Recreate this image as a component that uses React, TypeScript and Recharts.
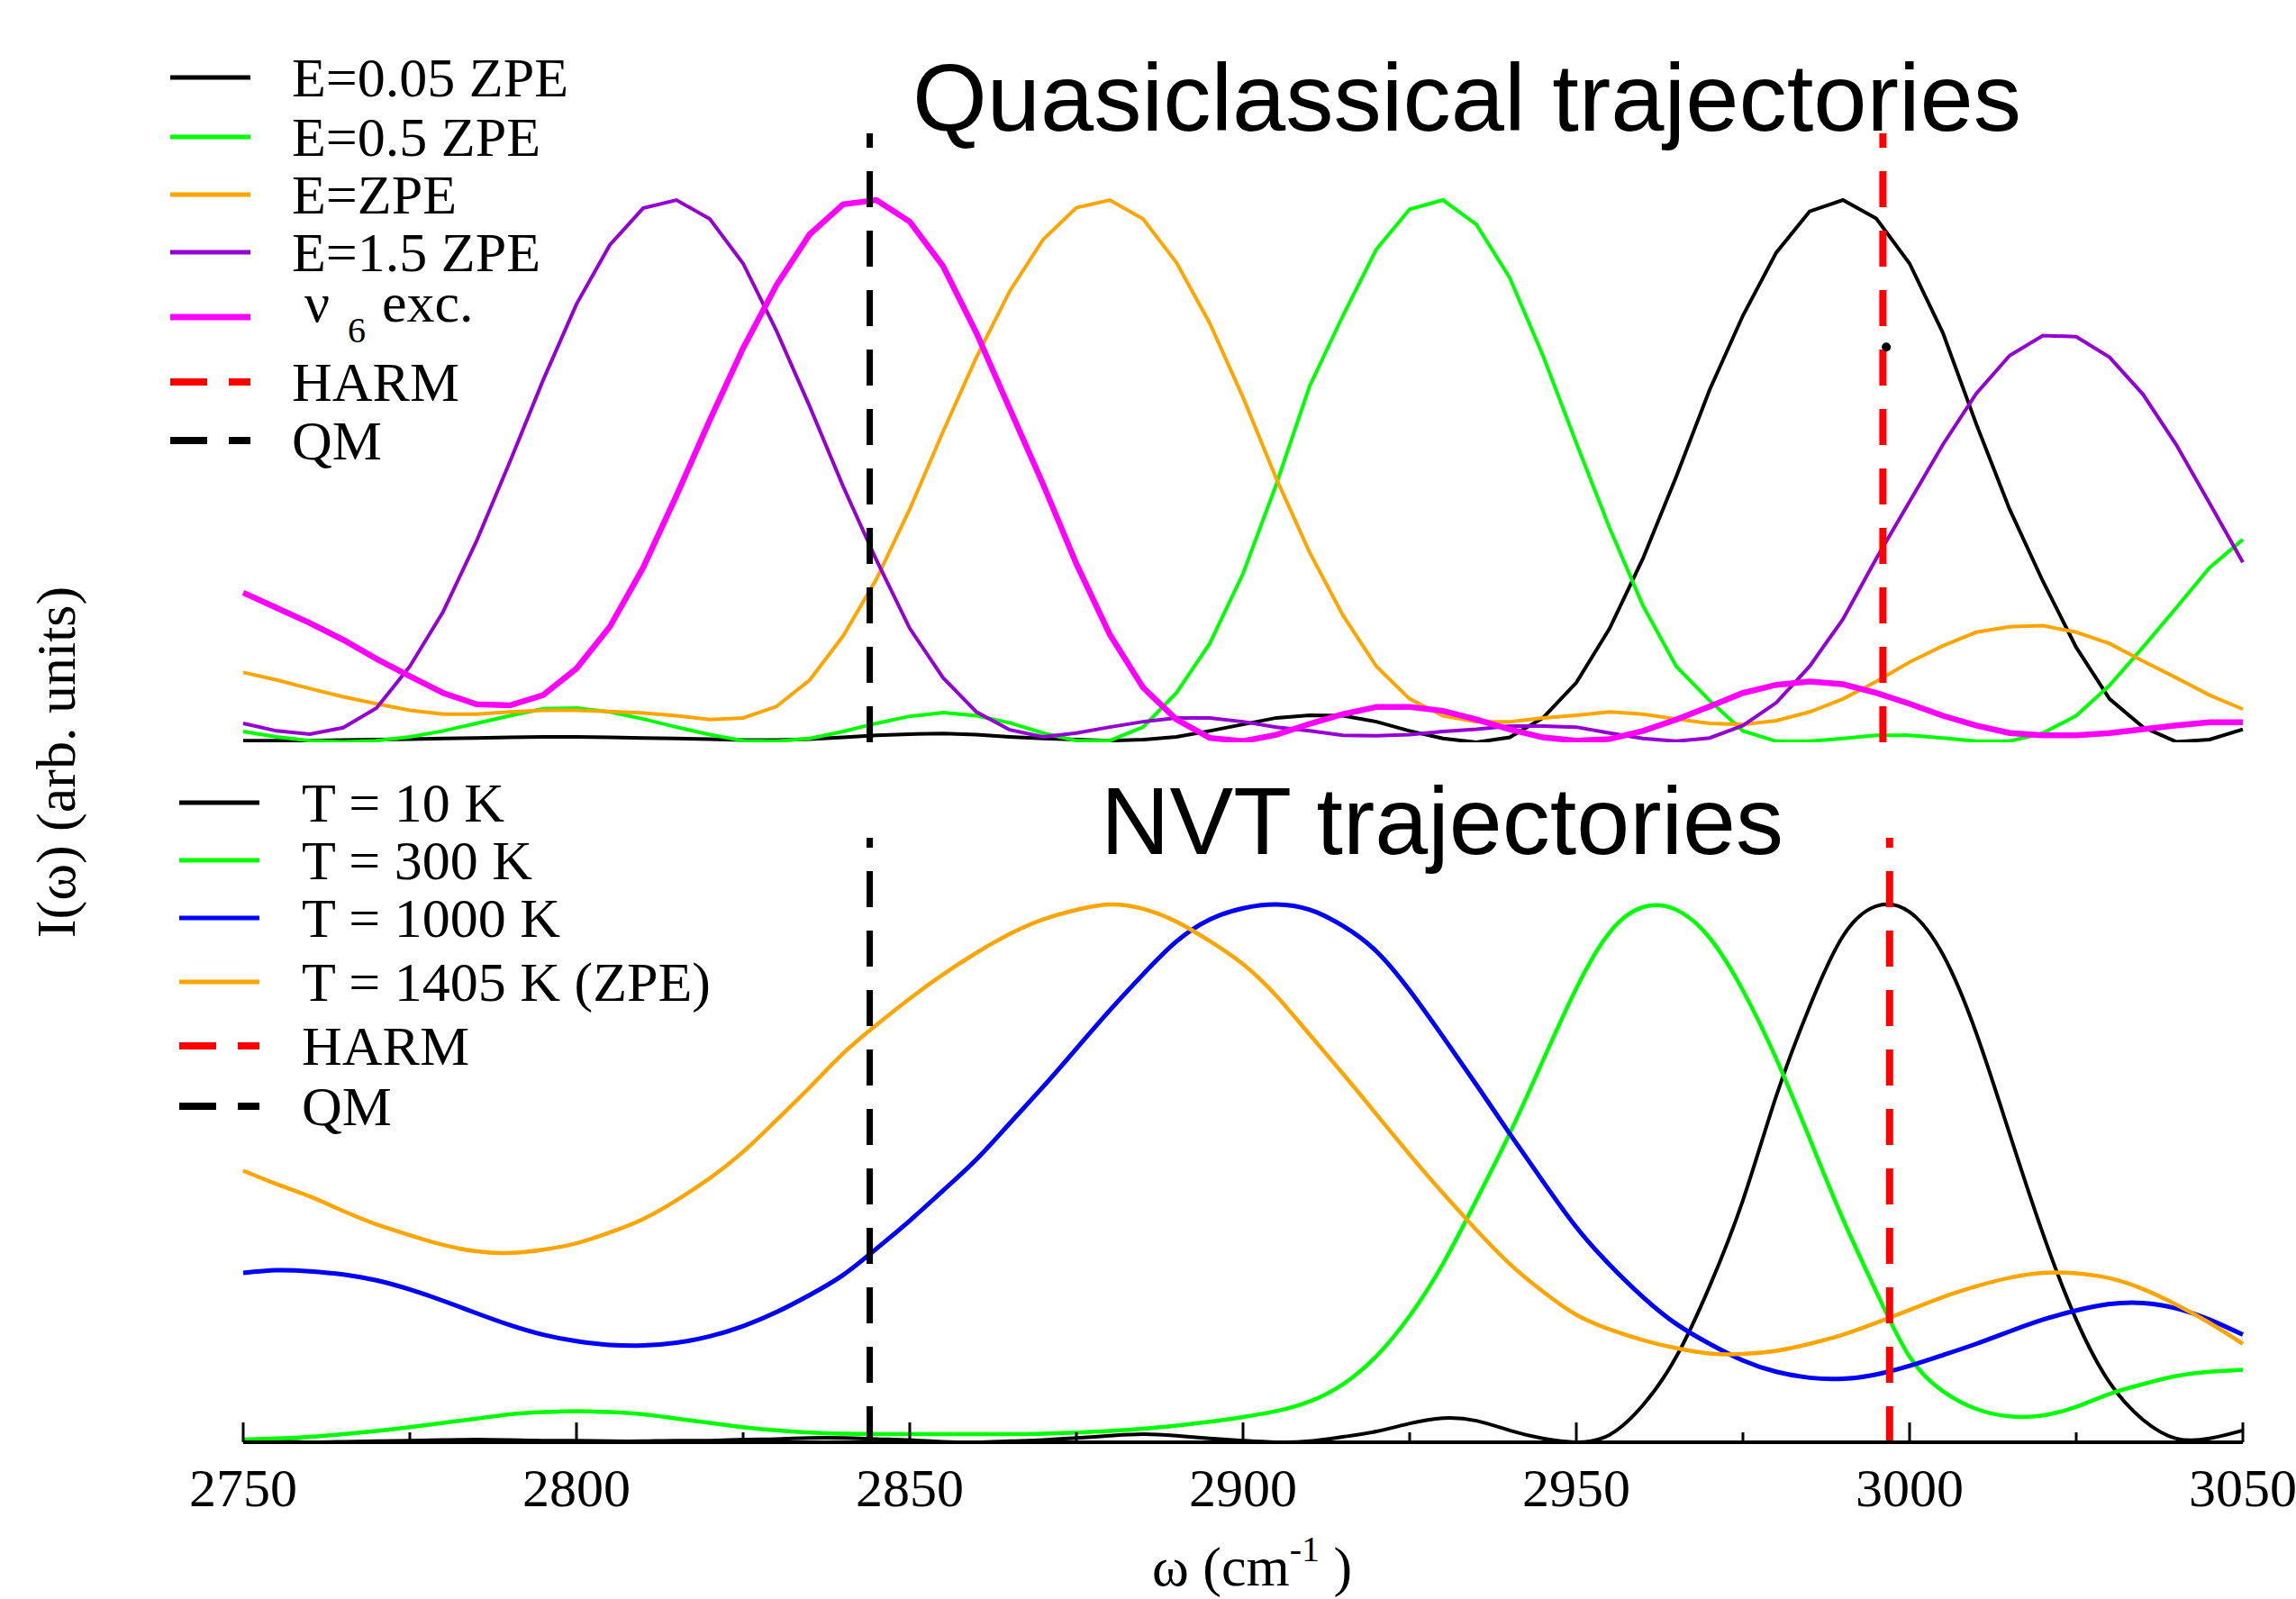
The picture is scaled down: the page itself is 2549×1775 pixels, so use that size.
import React from 'react';
import { LineChart, Line, XAxis, YAxis, ReferenceLine, ReferenceDot } from 'recharts';

const W = 2549;
const H = 1775;
const SERIF = '"Liberation Serif", "Times New Roman", serif';
const SANS = '"Liberation Sans", Arial, sans-serif';

// frequency grid (cm^-1), shared by both panels
const freq = [
  2750, 2755, 2760, 2765, 2770, 2775, 2780, 2785, 2790, 2795,
  2800, 2805, 2810, 2815, 2820, 2825, 2830, 2835, 2840, 2845,
  2850, 2855, 2860, 2865, 2870, 2875, 2880, 2885, 2890, 2895,
  2900, 2905, 2910, 2915, 2920, 2925, 2930, 2935, 2940, 2945,
  2950, 2955, 2960, 2965, 2970, 2975, 2980, 2985, 2990, 2995,
  3000, 3005, 3010, 3015, 3020, 3025, 3030, 3035, 3040, 3045, 3050,
];

const xTicks = [2750, 2775, 2800, 2825, 2850, 2875, 2900, 2925, 2950, 2975, 3000, 3025, 3050];

// reference frequencies
const qmFreq = 2844;
const harmFreqTop = 2996;
const harmFreqBottom = 2997;

// --- Quasiclassical trajectories (top panel) ---
const qc005 = [
  0.003, 0.003, 0.003, 0.004, 0.005, 0.006, 0.007, 0.008, 0.009, 0.01,
  0.01, 0.009, 0.008, 0.007, 0.006, 0.004, 0.004, 0.006, 0.009, 0.013,
  0.015, 0.016, 0.014, 0.01, 0.007, 0.005, 0.003, 0.005, 0.01, 0.021,
  0.033, 0.045, 0.05, 0.049, 0.038, 0.021, 0.007, 0.0, 0.009, 0.045,
  0.11, 0.21, 0.339, 0.49, 0.65, 0.787, 0.903, 0.979, 1.0, 0.966,
  0.883, 0.755, 0.587, 0.43, 0.297, 0.175, 0.08, 0.028, 0.001, 0.005, 0.024,
];
const qc05 = [
  0.02, 0.01, 0.003, 0.001, 0.003, 0.01, 0.021, 0.035, 0.049, 0.062,
  0.063, 0.056, 0.043, 0.028, 0.014, 0.003, 0.002, 0.007, 0.02, 0.035,
  0.048, 0.055, 0.049, 0.036, 0.017, 0.003, 0.003, 0.028, 0.091, 0.182,
  0.311, 0.476, 0.657, 0.787, 0.909, 0.983, 1.0, 0.955, 0.857, 0.713,
  0.552, 0.395, 0.252, 0.14, 0.077, 0.021, 0.002, 0.002, 0.007, 0.013,
  0.013, 0.008, 0.002, 0.002, 0.017, 0.049, 0.105, 0.175, 0.248, 0.322, 0.374,
];
const qcZpe = [
  0.129, 0.115, 0.099, 0.084, 0.071, 0.059, 0.052, 0.052, 0.056, 0.059,
  0.059, 0.057, 0.054, 0.049, 0.042, 0.045, 0.066, 0.115, 0.196, 0.301,
  0.43, 0.573, 0.71, 0.832, 0.927, 0.986, 1.0, 0.965, 0.885, 0.773,
  0.636, 0.486, 0.35, 0.234, 0.14, 0.08, 0.049, 0.038, 0.038, 0.045,
  0.05, 0.056, 0.052, 0.043, 0.035, 0.033, 0.04, 0.056, 0.08, 0.112,
  0.148, 0.178, 0.203, 0.213, 0.215, 0.203, 0.182, 0.15, 0.119, 0.087, 0.061,
];
const qc15 = [
  0.035, 0.021, 0.015, 0.027, 0.063, 0.14, 0.241, 0.371, 0.517, 0.668,
  0.808, 0.917, 0.985, 1.0, 0.965, 0.883, 0.759, 0.619, 0.472, 0.336,
  0.21, 0.119, 0.056, 0.023, 0.01, 0.017, 0.028, 0.038, 0.045, 0.045,
  0.038, 0.028, 0.021, 0.013, 0.012, 0.014, 0.02, 0.024, 0.03, 0.03,
  0.028, 0.017, 0.007, 0.002, 0.008, 0.031, 0.073, 0.14, 0.227, 0.339,
  0.444, 0.549, 0.643, 0.713, 0.75, 0.748, 0.71, 0.642, 0.549, 0.441, 0.332,
];
const qcNu6 = [
  0.276, 0.248, 0.22, 0.189, 0.154, 0.122, 0.091, 0.07, 0.068, 0.087,
  0.136, 0.213, 0.322, 0.455, 0.594, 0.727, 0.843, 0.937, 0.992, 1.0,
  0.96, 0.878, 0.755, 0.615, 0.476, 0.329, 0.199, 0.101, 0.042, 0.008,
  0.002, 0.014, 0.034, 0.052, 0.065, 0.065, 0.058, 0.042, 0.024, 0.009,
  0.003, 0.006, 0.021, 0.042, 0.066, 0.091, 0.106, 0.112, 0.107, 0.091,
  0.071, 0.049, 0.031, 0.017, 0.013, 0.013, 0.017, 0.024, 0.031, 0.037, 0.037,
];

// --- NVT trajectories (bottom panel) ---
const nvt10 = [
  0.003, 0.002, 0.0, 0.001, 0.002, 0.003, 0.004, 0.005, 0.004, 0.003,
  0.003, 0.002, 0.002, 0.003, 0.003, 0.005, 0.006, 0.008, 0.008, 0.006,
  0.004, 0.001, 0.0, 0.002, 0.004, 0.008, 0.012, 0.015, 0.012, 0.007,
  0.003, 0.0, 0.002, 0.01, 0.02, 0.035, 0.045, 0.04, 0.022, 0.007,
  0.0, 0.014, 0.069, 0.159, 0.29, 0.45, 0.644, 0.81, 0.941, 0.997,
  0.986, 0.907, 0.761, 0.574, 0.388, 0.228, 0.111, 0.042, 0.007, 0.007, 0.022,
];
const nvt300 = [
  0.005, 0.007, 0.01, 0.015, 0.021, 0.028, 0.036, 0.044, 0.052, 0.056,
  0.058, 0.056, 0.052, 0.044, 0.036, 0.028, 0.022, 0.018, 0.016, 0.015,
  0.015, 0.015, 0.015, 0.015, 0.016, 0.018, 0.021, 0.025, 0.031, 0.038,
  0.047, 0.058, 0.076, 0.108, 0.16, 0.235, 0.332, 0.45, 0.574, 0.71,
  0.844, 0.948, 0.995, 0.99, 0.938, 0.84, 0.713, 0.565, 0.415, 0.28,
  0.159, 0.095, 0.062, 0.048, 0.05, 0.066, 0.09, 0.108, 0.123, 0.131, 0.135,
];
const nvt1000 = [
  0.315, 0.32, 0.318, 0.312, 0.301, 0.284, 0.263, 0.24, 0.218, 0.2,
  0.188, 0.181, 0.18, 0.185, 0.197, 0.216, 0.242, 0.274, 0.311, 0.36,
  0.412, 0.468, 0.526, 0.593, 0.661, 0.732, 0.803, 0.87, 0.931, 0.972,
  0.993, 1.0, 0.99, 0.96, 0.913, 0.84, 0.754, 0.665, 0.574, 0.485,
  0.4, 0.33, 0.27, 0.22, 0.183, 0.152, 0.131, 0.12, 0.118, 0.126,
  0.142, 0.162, 0.183, 0.206, 0.228, 0.245, 0.257, 0.259, 0.249, 0.228, 0.2,
];
const nvt1405 = [
  0.505, 0.48, 0.457, 0.43, 0.405, 0.385, 0.367, 0.355, 0.352, 0.358,
  0.37, 0.39, 0.415, 0.45, 0.491, 0.54, 0.599, 0.66, 0.723, 0.776,
  0.825, 0.87, 0.91, 0.945, 0.972, 0.99, 1.0, 0.992, 0.968, 0.932,
  0.889, 0.83, 0.758, 0.685, 0.61, 0.535, 0.463, 0.395, 0.332, 0.28,
  0.237, 0.21, 0.19, 0.175, 0.165, 0.164, 0.17, 0.183, 0.2, 0.222,
  0.246, 0.27, 0.29, 0.306, 0.315, 0.314, 0.305, 0.285, 0.256, 0.222, 0.183,
];

const topData = freq.map((w, i) => ({
  w, e005: qc005[i], e05: qc05[i], zpe: qcZpe[i], e15: qc15[i], nu6: qcNu6[i],
}));
const bottomData = freq.map((w, i) => ({
  w, t10: nvt10[i], t300: nvt300[i], t1000: nvt1000[i], t1405: nvt1405[i],
}));

const topLegend = [
  { label: 'E=0.05 ZPE', color: '#000000', y: 86 },
  { label: 'E=0.5 ZPE', color: '#00ff00', y: 152 },
  { label: 'E=ZPE', color: '#ffa500', y: 216 },
  { label: 'E=1.5 ZPE', color: '#9400d3', y: 280 },
  { label: 'nu6', color: '#ff00ff', y: 352, wide: true },
  { label: 'HARM', color: '#ff0000', y: 424, dashed: true },
  { label: 'QM', color: '#000000', y: 489, dashed: true },
];
const bottomLegend = [
  { label: 'T = 10 K', color: '#000000', y: 891 },
  { label: 'T = 300 K', color: '#00ff00', y: 955 },
  { label: 'T = 1000 K', color: '#0000ff', y: 1019 },
  { label: 'T = 1405 K (ZPE)', color: '#ffa500', y: 1090 },
  { label: 'HARM', color: '#ff0000', y: 1161, dashed: true },
  { label: 'QM', color: '#000000', y: 1228, dashed: true },
];

const AxisTick = (props: any) => {
  const { x, y, payload } = props;
  const major = payload.value % 50 === 0;
  return (
    <g>
      <line x1={x} x2={x} y1={y} y2={y - (major ? 22 : 11)} stroke="#000" strokeWidth={3} />
      {major && (
        <text x={x} y={y + 71} textAnchor="middle" fontSize={60} fontFamily={SERIF} fill="#000">
          {payload.value}
        </text>
      )}
    </g>
  );
};

const LegendBlock = ({ items, x1, x2, tx }: { items: any[]; x1: number; x2: number; tx: number }) => (
  <g>
    {items.map((it) => (
      <g key={it.label}>
        <line
          x1={x1} x2={x2} y1={it.y} y2={it.y}
          stroke={it.color}
          strokeWidth={it.dashed ? 8 : it.wide ? 7 : 5}
          strokeDasharray={it.dashed ? '41 24' : undefined}
        />
        {it.label === 'nu6' ? (
          <g>
            <text x={tx + 14} y={it.y + 5} fontSize={62} fontFamily={SERIF} fill="#000">ν</text>
            <text x={tx + 62} y={it.y + 28} fontSize={40} fontFamily={SERIF} fill="#000">6</text>
            <text x={tx + 100} y={it.y + 5} fontSize={62} fontFamily={SERIF} fill="#000">exc.</text>
          </g>
        ) : (
          <text x={tx} y={it.y + 21} fontSize={62} fontFamily={SERIF} fill="#000">{it.label}</text>
        )}
      </g>
    ))}
  </g>
);

const App: React.FC = () => {
  return (
    <div style={{ position: 'absolute', left: 0, top: 0, width: W, height: H, background: '#fff' }}>
      <div style={{ position: 'absolute', left: 0, top: 0 }}>
        <LineChart width={W} height={900} data={topData} margin={{ top: 148, right: 59, bottom: 76, left: 270 }}>
          <XAxis dataKey="w" type="number" domain={[2750, 3050]} hide />
          <YAxis type="number" domain={[0, 1.123]} allowDataOverflow hide />
          <Line type="linear" dataKey="e005" stroke="#000000" strokeWidth={4} dot={false} isAnimationActive={false} />
          <Line type="linear" dataKey="e05" stroke="#00ff00" strokeWidth={4} dot={false} isAnimationActive={false} />
          <Line type="linear" dataKey="zpe" stroke="#ffa500" strokeWidth={4} dot={false} isAnimationActive={false} />
          <Line type="linear" dataKey="e15" stroke="#9400d3" strokeWidth={4} dot={false} isAnimationActive={false} />
          <Line type="linear" dataKey="nu6" stroke="#ff00ff" strokeWidth={6.5} dot={false} isAnimationActive={false} />
          <ReferenceLine x={qmFreq} stroke="#000" strokeWidth={7} strokeDasharray="40 26" />
          <ReferenceLine x={harmFreqTop} stroke="#ff0000" strokeWidth={8} strokeDasharray="40 26" />
          <ReferenceDot x={2996.5} y={0.729} r={5} fill="#000" stroke="none" />
        </LineChart>
      </div>
      <div style={{ position: 'absolute', left: 0, top: 0 }}>
        <LineChart width={W} height={H} data={bottomData} margin={{ top: 930, right: 59, bottom: 0, left: 270 }}>
          <XAxis
            dataKey="w" type="number" domain={[2750, 3050]} ticks={xTicks} interval={0}
            height={174} tickSize={0} tickMargin={0} tickLine={false}
            axisLine={{ stroke: '#000', strokeWidth: 4 }} tick={<AxisTick />}
          />
          <YAxis type="number" domain={[0, 1.124]} allowDataOverflow hide />
          <Line type="natural" dataKey="t10" stroke="#000000" strokeWidth={4} dot={false} isAnimationActive={false} />
          <Line type="natural" dataKey="t300" stroke="#00ff00" strokeWidth={4.5} dot={false} isAnimationActive={false} />
          <Line type="natural" dataKey="t1000" stroke="#0000ff" strokeWidth={5} dot={false} isAnimationActive={false} />
          <Line type="natural" dataKey="t1405" stroke="#ffa500" strokeWidth={4.5} dot={false} isAnimationActive={false} />
          <ReferenceLine x={qmFreq} stroke="#000" strokeWidth={7} strokeDasharray="40 26" />
          <ReferenceLine x={harmFreqBottom} stroke="#ff0000" strokeWidth={8} strokeDasharray="40 26" />
        </LineChart>
      </div>
      <svg width={W} height={H} style={{ position: 'absolute', left: 0, top: 0, pointerEvents: 'none' }}>
        <text x={1013} y={145} fontSize={106.5} fontFamily={SANS} fill="#000">Quasiclassical trajectories</text>
        <text x={1222} y={948} fontSize={106} fontFamily={SANS} fill="#000">NVT trajectories</text>
        <LegendBlock items={topLegend} x1={189} x2={278} tx={324} />
        <LegendBlock items={bottomLegend} x1={199} x2={288} tx={335} />
        <text transform="translate(83,846) rotate(-90)" textAnchor="middle" fontSize={62} fontFamily={SERIF} fill="#000">
          I(ω) (arb. units)
        </text>
        <text x={1279} y={1760} fontSize={62} fontFamily={SERIF} fill="#000">
          ω (cm
          <tspan fontSize={40} dy={-27}>-1</tspan>
          <tspan dy={27}>{'\u00a0)'}</tspan>
        </text>
      </svg>
    </div>
  );
};

export default App;
